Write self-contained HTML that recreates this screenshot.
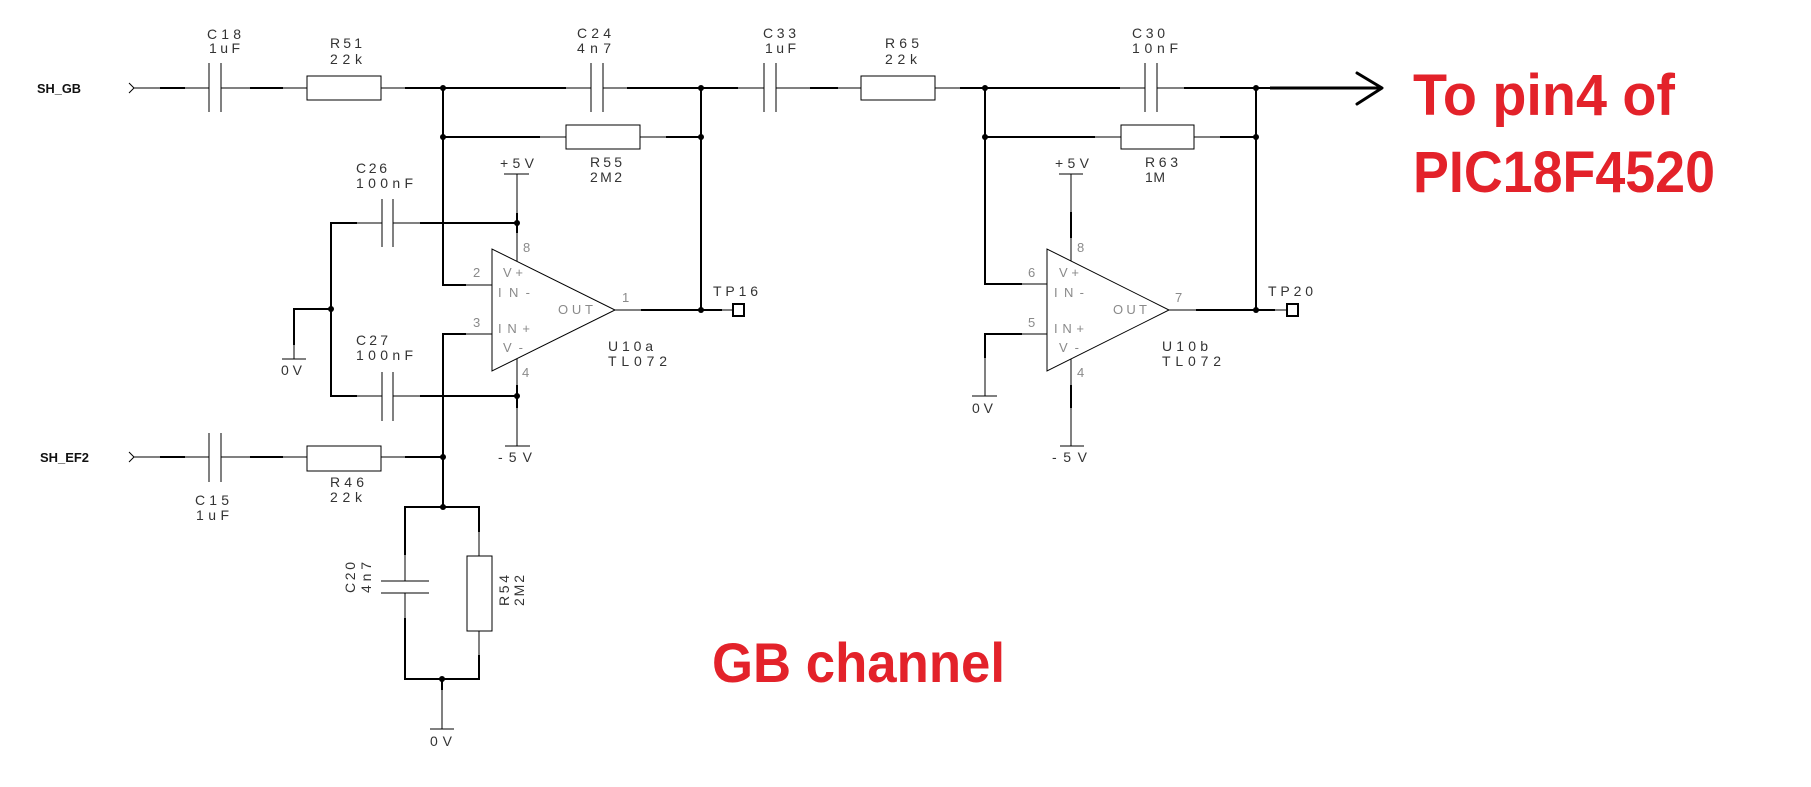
<!DOCTYPE html>
<html><head><meta charset="utf-8"><style>
html,body{margin:0;padding:0;background:#fff;}
svg{display:block;}
.l{font-family:"Liberation Sans",sans-serif;font-size:14px;fill:#333;}
.p{font-family:"Liberation Sans",sans-serif;font-size:13px;fill:#8a8a8a;}
.b{font-family:"Liberation Sans",sans-serif;font-size:13px;font-weight:bold;fill:#111;}
.r{font-family:"Liberation Sans",sans-serif;font-weight:bold;fill:#e3222a;}
</style></head><body>
<svg width="1811" height="787" viewBox="0 0 1811 787" xmlns="http://www.w3.org/2000/svg">
<rect width="1811" height="787" fill="#fff"/>
<g stroke="#000" fill="none" stroke-width="1">
<!-- top row thin -->
<line x1="134" y1="88" x2="209" y2="88"/>
<line x1="221" y1="88" x2="307" y2="88"/>
<line x1="381" y1="88" x2="405" y2="88"/>
<line x1="566" y1="88" x2="591" y2="88"/>
<line x1="603" y1="88" x2="627" y2="88"/>
<line x1="738" y1="88" x2="764" y2="88"/>
<line x1="776" y1="88" x2="861" y2="88"/>
<line x1="935" y1="88" x2="960" y2="88"/>
<line x1="1120" y1="88" x2="1145" y2="88"/>
<line x1="1157" y1="88" x2="1184" y2="88"/>
<!-- second row thin -->
<line x1="540" y1="137" x2="566" y2="137"/>
<line x1="640" y1="137" x2="666" y2="137"/>
<line x1="1095" y1="137" x2="1121" y2="137"/>
<line x1="1194" y1="137" x2="1220" y2="137"/>
<!-- pins thin -->
<line x1="466" y1="285" x2="492" y2="285"/>
<line x1="466" y1="334" x2="492" y2="334"/>
<line x1="1022" y1="284" x2="1047" y2="284"/>
<line x1="1022" y1="334" x2="1047" y2="334"/>
<line x1="985" y1="358" x2="985" y2="396"/>
<line x1="615" y1="310" x2="641" y2="310"/>
<line x1="722" y1="310" x2="733" y2="310"/>
<line x1="1169" y1="310" x2="1196" y2="310"/>
<line x1="1275" y1="310" x2="1287" y2="310"/>
<line x1="517" y1="174" x2="517" y2="261"/>
<line x1="517" y1="359" x2="517" y2="446"/>
<line x1="1071" y1="174" x2="1071" y2="261"/>
<line x1="1071" y1="359" x2="1071" y2="446"/>
<line x1="357" y1="223" x2="382" y2="223"/>
<line x1="393" y1="223" x2="420" y2="223"/>
<line x1="357" y1="396" x2="382" y2="396"/>
<line x1="393" y1="396" x2="420" y2="396"/>
<line x1="294" y1="345" x2="294" y2="359"/>
<line x1="134" y1="457" x2="209" y2="457"/>
<line x1="221" y1="457" x2="307" y2="457"/>
<line x1="381" y1="457" x2="405" y2="457"/>
<line x1="405" y1="555" x2="405" y2="581"/>
<line x1="405" y1="593" x2="405" y2="618"/>
<line x1="479" y1="532" x2="479" y2="556"/>
<line x1="479" y1="631" x2="479" y2="655"/>
<line x1="442" y1="690" x2="442" y2="729"/>
<!-- supply/ground bars -->
<line x1="504" y1="174" x2="529" y2="174"/>
<line x1="1059" y1="174" x2="1083" y2="174"/>
<line x1="505" y1="446" x2="530" y2="446"/>
<line x1="1060" y1="446" x2="1084" y2="446"/>
<line x1="282" y1="359" x2="306" y2="359"/>
<line x1="972" y1="396" x2="997" y2="396"/>
<line x1="430" y1="729" x2="454" y2="729"/>
<!-- input arrows -->
<polyline points="129,83 134,88 129,93"/>
<polyline points="129,452 134,457 129,462"/>
<!-- capacitor plates -->
<line x1="209" y1="63" x2="209" y2="112"/><line x1="221" y1="63" x2="221" y2="112"/>
<line x1="591" y1="63" x2="591" y2="112"/><line x1="603" y1="63" x2="603" y2="112"/>
<line x1="764" y1="63" x2="764" y2="112"/><line x1="776" y1="63" x2="776" y2="112"/>
<line x1="1145" y1="63" x2="1145" y2="112"/><line x1="1157" y1="63" x2="1157" y2="112"/>
<line x1="382" y1="199" x2="382" y2="247"/><line x1="393" y1="199" x2="393" y2="247"/>
<line x1="382" y1="372" x2="382" y2="421"/><line x1="393" y1="372" x2="393" y2="421"/>
<line x1="209" y1="433" x2="209" y2="482"/><line x1="221" y1="433" x2="221" y2="482"/>
<line x1="381" y1="581" x2="429" y2="581"/><line x1="381" y1="593" x2="429" y2="593"/>
<!-- resistors -->
<rect x="307" y="76" width="74" height="24"/>
<rect x="861" y="76" width="74" height="24"/>
<rect x="566" y="125" width="74" height="24"/>
<rect x="1121" y="125" width="73" height="24"/>
<rect x="307" y="446" width="74" height="25"/>
<rect x="467" y="556" width="25" height="75"/>
<!-- op amps -->
<polygon points="492,249 492,371 615,310"/>
<polygon points="1047,249 1047,371 1169,310"/>
</g>
<g stroke="#000" fill="none" stroke-width="2">
<line x1="160" y1="88" x2="185" y2="88"/>
<line x1="250" y1="88" x2="283" y2="88"/>
<line x1="405" y1="88" x2="566" y2="88"/>
<line x1="627" y1="88" x2="738" y2="88"/>
<line x1="810" y1="88" x2="838" y2="88"/>
<line x1="960" y1="88" x2="1120" y2="88"/>
<line x1="1184" y1="88" x2="1270" y2="88"/>
<line x1="443" y1="137" x2="540" y2="137"/>
<line x1="666" y1="137" x2="701" y2="137"/>
<line x1="985" y1="137" x2="1095" y2="137"/>
<line x1="1220" y1="137" x2="1256" y2="137"/>
<polyline points="443,88 443,285 466,285"/>
<line x1="701" y1="88" x2="701" y2="310"/>
<polyline points="985,88 985,284 1022,284"/>
<line x1="1256" y1="88" x2="1256" y2="310"/>
<polyline points="1022,334 985,334 985,358"/>
<polyline points="466,334 443,334 443,507"/>
<line x1="641" y1="310" x2="722" y2="310"/>
<line x1="1196" y1="310" x2="1275" y2="310"/>
<line x1="420" y1="223" x2="517" y2="223"/>
<polyline points="357,223 331,223 331,396 357,396"/>
<line x1="420" y1="396" x2="517" y2="396"/>
<polyline points="331,309 294,309 294,345"/>
<line x1="517" y1="213" x2="517" y2="233"/>
<line x1="517" y1="385" x2="517" y2="408"/>
<line x1="1071" y1="212" x2="1071" y2="238"/>
<line x1="1071" y1="385" x2="1071" y2="408"/>
<line x1="160" y1="457" x2="185" y2="457"/>
<line x1="250" y1="457" x2="283" y2="457"/>
<line x1="405" y1="457" x2="443" y2="457"/>
<polyline points="405,555 405,507 479,507 479,532"/>
<polyline points="405,618 405,679 479,679 479,655"/>
<line x1="442" y1="679" x2="442" y2="690"/>
<rect x="733" y="304" width="11" height="12"/>
<rect x="1287" y="304" width="11" height="12"/>
</g>
<g stroke="#000" fill="none" stroke-width="3">
<line x1="1270" y1="88" x2="1382" y2="88"/>
<polyline points="1357,73 1382,88 1357,104" stroke-linecap="round" stroke-linejoin="round"/>
</g>
<g fill="#000">
<circle cx="443" cy="88" r="3"/><circle cx="701" cy="88" r="3"/>
<circle cx="985" cy="88" r="3"/><circle cx="1256" cy="88" r="3"/>
<circle cx="443" cy="137" r="3"/><circle cx="701" cy="137" r="3"/>
<circle cx="985" cy="137" r="3"/><circle cx="1256" cy="137" r="3"/>
<circle cx="517" cy="223" r="3"/><circle cx="331" cy="309" r="3"/>
<circle cx="517" cy="396" r="3"/><circle cx="701" cy="310" r="3"/>
<circle cx="1256" cy="310" r="3"/><circle cx="443" cy="457" r="3"/>
<circle cx="443" cy="507" r="3"/><circle cx="442" cy="679" r="3"/>
</g>
<!-- labels -->
<text class="b" x="37" y="93" textLength="44" lengthAdjust="spacingAndGlyphs">SH_GB</text>
<text class="b" x="40" y="462" textLength="49" lengthAdjust="spacingAndGlyphs">SH_EF2</text>
<g class="l">
<text x="207" y="39" textLength="34" lengthAdjust="spacing">C18</text>
<text x="209" y="53" textLength="31" lengthAdjust="spacing">1uF</text>
<text x="330" y="48" textLength="32" lengthAdjust="spacing">R51</text>
<text x="330" y="64" textLength="32" lengthAdjust="spacing">22k</text>
<text x="577" y="38" textLength="34" lengthAdjust="spacing">C24</text>
<text x="577" y="53" textLength="34" lengthAdjust="spacing">4n7</text>
<text x="763" y="38" textLength="33" lengthAdjust="spacing">C33</text>
<text x="765" y="53" textLength="31" lengthAdjust="spacing">1uF</text>
<text x="885" y="48" textLength="34" lengthAdjust="spacing">R65</text>
<text x="885" y="64" textLength="32" lengthAdjust="spacing">22k</text>
<text x="1132" y="38" textLength="33" lengthAdjust="spacing">C30</text>
<text x="1132" y="53" textLength="46" lengthAdjust="spacing">10nF</text>
<text x="590" y="167" textLength="32" lengthAdjust="spacing">R55</text>
<text x="590" y="182" textLength="32" lengthAdjust="spacing">2M2</text>
<text x="1145" y="167" textLength="33" lengthAdjust="spacing">R63</text>
<text x="1145" y="182" textLength="20" lengthAdjust="spacing">1M</text>
<text x="500" y="168" textLength="34" lengthAdjust="spacing">+5V</text>
<text x="1055" y="168" textLength="34" lengthAdjust="spacing">+5V</text>
<text x="356" y="173" textLength="31" lengthAdjust="spacing">C26</text>
<text x="356" y="188" textLength="57" lengthAdjust="spacing">100nF</text>
<text x="356" y="345" textLength="32" lengthAdjust="spacing">C27</text>
<text x="356" y="360" textLength="57" lengthAdjust="spacing">100nF</text>
<text x="281" y="375" textLength="21" lengthAdjust="spacing">0V</text>
<text x="972" y="413" textLength="21" lengthAdjust="spacing">0V</text>
<text x="430" y="746" textLength="22" lengthAdjust="spacing">0V</text>
<text x="498" y="462" textLength="34" lengthAdjust="spacing">-5V</text>
<text x="1052" y="462" textLength="35" lengthAdjust="spacing">-5V</text>
<text x="195" y="505" textLength="34" lengthAdjust="spacing">C15</text>
<text x="196" y="520" textLength="33" lengthAdjust="spacing">1uF</text>
<text x="330" y="487" textLength="34" lengthAdjust="spacing">R46</text>
<text x="330" y="502" textLength="32" lengthAdjust="spacing">22k</text>
<text transform="translate(355,593) rotate(-90)" textLength="31" lengthAdjust="spacing">C20</text>
<text transform="translate(371,593) rotate(-90)" textLength="31" lengthAdjust="spacing">4n7</text>
<text transform="translate(509,606) rotate(-90)" textLength="31" lengthAdjust="spacing">R54</text>
<text transform="translate(524,606) rotate(-90)" textLength="31" lengthAdjust="spacing">2M2</text>
<text x="713" y="296" textLength="45" lengthAdjust="spacing">TP16</text>
<text x="1268" y="296" textLength="45" lengthAdjust="spacing">TP20</text>
<text x="608" y="351" textLength="45" lengthAdjust="spacing">U10a</text>
<text x="608" y="366" textLength="59" lengthAdjust="spacing">TL072</text>
<text x="1162" y="351" textLength="46" lengthAdjust="spacing">U10b</text>
<text x="1162" y="366" textLength="59" lengthAdjust="spacing">TL072</text>
</g>
<g class="p">
<text x="473" y="277">2</text>
<text x="473" y="327">3</text>
<text x="523" y="252">8</text>
<text x="522" y="377">4</text>
<text x="622" y="302">1</text>
<text x="503" y="277" textLength="20" lengthAdjust="spacing">V+</text>
<text x="498" y="297" textLength="32" lengthAdjust="spacing">IN-</text>
<text x="558" y="314" textLength="35" lengthAdjust="spacing">OUT</text>
<text x="498" y="333" textLength="32" lengthAdjust="spacing">IN+</text>
<text x="503" y="352" textLength="20" lengthAdjust="spacing">V-</text>
<text x="1028" y="277">6</text>
<text x="1028" y="327">5</text>
<text x="1077" y="252">8</text>
<text x="1077" y="377">4</text>
<text x="1175" y="302">7</text>
<text x="1059" y="277" textLength="20" lengthAdjust="spacing">V+</text>
<text x="1054" y="297" textLength="30" lengthAdjust="spacing">IN-</text>
<text x="1113" y="314" textLength="34" lengthAdjust="spacing">OUT</text>
<text x="1054" y="333" textLength="30" lengthAdjust="spacing">IN+</text>
<text x="1059" y="352" textLength="20" lengthAdjust="spacing">V-</text>
</g>
<text class="r" x="1413" y="115" font-size="58" textLength="262" lengthAdjust="spacingAndGlyphs">To pin4 of</text>
<text class="r" x="1413" y="192" font-size="58" textLength="302" lengthAdjust="spacingAndGlyphs">PIC18F4520</text>
<text class="r" x="712" y="682" font-size="56" textLength="293" lengthAdjust="spacingAndGlyphs">GB channel</text>
</svg>
</body></html>
